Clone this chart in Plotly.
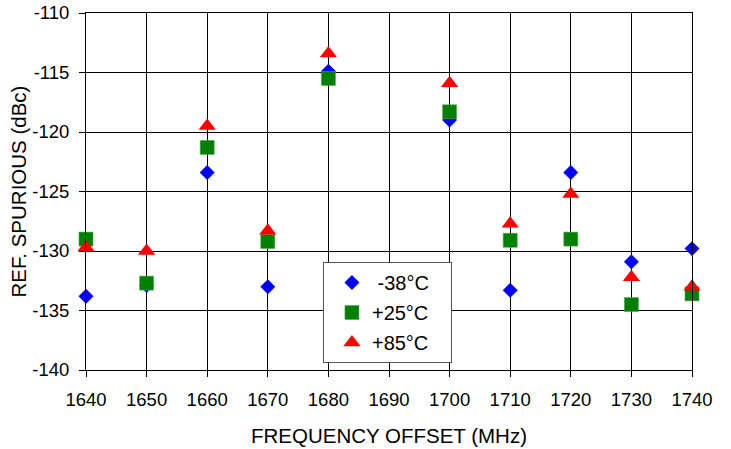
import plotly.graph_objects as go

# Reference spurious level vs. frequency offset at three temperatures
freq_mhz = [1640, 1650, 1660, 1670, 1680, 1700, 1710, 1720, 1730, 1740]
spur_m38 = [-133.8, -132.9, -123.4, -133.0, -114.9, -119.0, -133.3, -123.4, -130.9, -129.8]
spur_p25 = [-129.0, -132.7, -121.3, -129.2, -115.5, -118.3, -129.1, -129.0, -134.5, -133.6]
spur_p85 = [-129.7, -130.0, -119.5, -128.3, -113.4, -115.9, -127.7, -125.2, -132.2, -133.0]

# legend labels (non-breaking spaces keep the labels aligned and padded)
series_names = ["\u00a0-38°C\u00a0\u00a0\u00a0", "+25°C\u00a0\u00a0\u00a0", "+85°C\u00a0\u00a0\u00a0"]

x_ticks = [1640, 1650, 1660, 1670, 1680, 1690, 1700, 1710, 1720, 1730, 1740]
x_tick_labels = ["1640", "1650", "1660", "1670", "1680", "1690", "1700", "1710", "1720", "1730", "1740"]
y_ticks = [-140, -135, -130, -125, -120, -115, -110]
y_tick_labels = ["-140", "-135", "-130", "-125", "-120", "-115", "-110"]

FONT = "Liberation Sans, Arial, sans-serif"

fig = go.Figure()
fig.add_trace(go.Scatter(
    x=freq_mhz, y=spur_m38, mode="markers", name=series_names[0], cliponaxis=False,
    legendgroup="m38",
    marker=dict(symbol="diamond", size=11.5, color="#0000FF", line=dict(width=0)),
))
fig.add_trace(go.Scatter(
    x=freq_mhz, y=spur_p25, mode="markers", name=series_names[1], cliponaxis=False,
    legendgroup="p25",
    marker=dict(symbol="square", size=14, color="#008000", line=dict(width=0.6, color="#4CA64C")),
))
fig.add_trace(go.Scatter(
    x=freq_mhz, y=spur_p85, mode="markers", name=series_names[2], cliponaxis=False,
    legendgroup="p85",
    marker=dict(symbol="triangle-up", size=15, color="#FF0000", line=dict(width=0)),
))

axis_common = dict(
    showgrid=True, gridcolor="#000000", gridwidth=1,
    showline=True, linecolor="#000000", linewidth=1, mirror=True,
    ticks="outside", ticklen=6, tickcolor="#000000", tickwidth=1,
    zeroline=False, tickfont=dict(family=FONT, size=18.5, color="#000000"),
)

fig.update_xaxes(
    range=[1640, 1740], tickvals=x_ticks, ticktext=x_tick_labels, ticklabelstandoff=7,
    title=dict(text="FREQUENCY OFFSET (MHz)", font=dict(family=FONT, size=20.5, color="#000000"), standoff=19),
    **axis_common,
)
fig.update_yaxes(
    range=[-140, -110], tickvals=y_ticks, ticktext=y_tick_labels, ticklabelstandoff=6,
    title=dict(text="REF. SPURIOUS (dBc)", font=dict(family=FONT, size=20.5, color="#000000"), standoff=0),
    **axis_common,
)

fig.update_layout(
    width=731, height=449,
    margin=dict(l=86, r=39, t=13, b=79, autoexpand=False),
    paper_bgcolor="#FFFFFF", plot_bgcolor="#FFFFFF",
    font=dict(family=FONT, color="#000000"),
    showlegend=True,
    legend=dict(
        x=0.391, y=0.3025, xanchor="left", yanchor="top",
        bgcolor="#FFFFFF", bordercolor="#555555", borderwidth=1,
        font=dict(family=FONT, size=20, color="#000000"),
        itemwidth=30, indentation=8, tracegroupgap=1,
    ),
)

fig.write_html("out.html")
